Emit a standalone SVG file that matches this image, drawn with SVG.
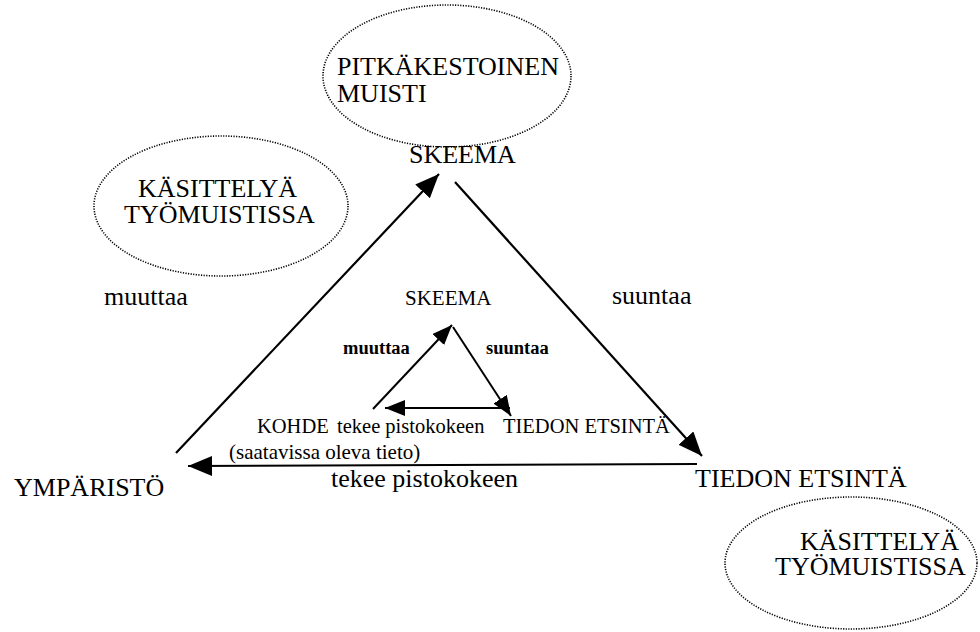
<svg xmlns="http://www.w3.org/2000/svg" width="980" height="632" viewBox="0 0 980 632" font-family="'Liberation Serif', 'DejaVu Serif', serif">
  <style>
    text { font-family: 'Liberation Serif', 'Times New Roman', 'DejaVu Serif', serif; fill: #000; }
    .big { font-size: 26px; }
    .mid { font-size: 21px; }
    .small { font-size: 20.5px; }
    .bold { font-size: 18.5px; font-weight: bold; }
    .cloud { fill: none; stroke: #000; stroke-width: 1.6; stroke-dasharray: 1.2 1.4; }
    .arrow { fill: none; stroke: #000; stroke-width: 2.2; }
    .arrow-in { fill: none; stroke: #000; stroke-width: 2; }
  </style>
  <defs>
    <marker id="head" markerUnits="userSpaceOnUse" markerWidth="26" markerHeight="22" refX="24" refY="10" orient="auto">
      <path d="M0,0 L24,10 L0,20 Z" fill="#000"/>
    </marker>
    <marker id="head-in" markerUnits="userSpaceOnUse" markerWidth="22" markerHeight="18" refX="20" refY="8" orient="auto">
      <path d="M0,0 L20,8 L0,16 Z" fill="#000"/>
    </marker>
  </defs>

  <rect width="980" height="632" fill="#fff"/>

  <!-- memory clouds -->
  <g id="long-term-memory">
    <ellipse class="cloud" cx="447" cy="76" rx="124" ry="71"/>
    <text class="big" x="337" y="75">PITKÄKESTOINEN</text>
    <text class="big" x="337" y="102">MUISTI</text>
  </g>
  <g id="working-memory-left">
    <ellipse class="cloud" cx="221" cy="206" rx="127" ry="70"/>
    <text class="big" x="138" y="197">KÄSITTELYÄ</text>
    <text class="big" x="124" y="223">TYÖMUISTISSA</text>
  </g>
  <g id="working-memory-right">
    <ellipse class="cloud" cx="851" cy="563" rx="126" ry="66"/>
    <text class="big" x="800" y="550">KÄSITTELYÄ</text>
    <text class="big" x="775" y="575">TYÖMUISTISSA</text>
  </g>

  <!-- outer cycle nodes -->
  <g id="schema">
    <text class="big" x="409" y="163">SKEEMA</text>
  </g>
  <g id="environment">
    <text class="big" x="14" y="496">YMPÄRISTÖ</text>
  </g>
  <g id="search">
    <text class="big" x="695" y="487">TIEDON ETSINTÄ</text>
  </g>

  <!-- inner cycle nodes -->
  <g id="inner-schema">
    <text class="mid" x="405" y="305">SKEEMA</text>
  </g>
  <g id="inner-object">
    <text class="small" x="257" y="433">KOHDE</text>
    <text class="mid" x="229" y="459">(saatavissa oleva tieto)</text>
  </g>
  <g id="inner-search">
    <text class="small" x="503" y="433">TIEDON ETSINTÄ</text>
  </g>

  <!-- connectors -->
  <g id="connectors">
    <line class="arrow" x1="176" y1="453" x2="439" y2="174" marker-end="url(#head)"/>
    <line class="arrow" x1="455" y1="182" x2="702" y2="456" marker-end="url(#head)"/>
    <line class="arrow" x1="697" y1="464" x2="188" y2="466" marker-end="url(#head)"/>

    <line class="arrow-in" x1="373" y1="409" x2="452" y2="325" marker-end="url(#head-in)"/>
    <line class="arrow-in" x1="453" y1="327" x2="511" y2="416" marker-end="url(#head-in)"/>
    <line class="arrow-in" x1="510" y1="408" x2="385" y2="408" marker-end="url(#head-in)"/>

    <text class="big" x="104" y="305">muuttaa</text>
    <text class="big" x="612" y="304">suuntaa</text>
    <text class="big" x="331" y="487">tekee pistokokeen</text>

    <text class="bold" x="343" y="354">muuttaa</text>
    <text class="bold" x="486" y="354">suuntaa</text>
    <text class="small" x="337" y="433">tekee pistokokeen</text>
  </g>
</svg>
